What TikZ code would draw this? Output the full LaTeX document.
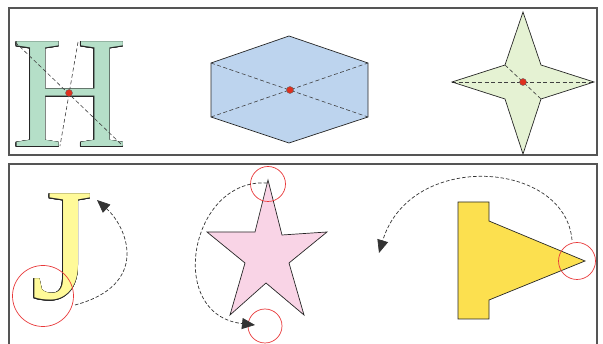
\documentclass[tikz,border=0pt]{standalone}
\usepackage{fontspec}
\setmainfont{Liberation Serif}
\usetikzlibrary{arrows.meta}
\definecolor{hgreen}{HTML}{B5DFC8}
\definecolor{hexblue}{HTML}{BDD4EE}
\definecolor{stargreen}{HTML}{E5F2D3}
\definecolor{jyellow}{HTML}{FFFA99}
\definecolor{starpink}{HTML}{F9D4E6}
\definecolor{tyellow}{HTML}{FCE04F}
\definecolor{dotred}{HTML}{E0301E}
\definecolor{ringred}{HTML}{E8393A}
\definecolor{framegray}{HTML}{555555}
\tikzset{
  panel/.style={draw=framegray, line width=1.3pt},
  figline/.style={draw=black!85, line width=0.7pt, line join=miter},
  guide/.style={draw=black!75, line width=0.6pt, dash pattern=on 4pt off 2.5pt},
  centre/.style={circle, fill=dotred, draw=black!60, line width=0.4pt, inner sep=0pt, minimum size=7pt},
  ring/.style={draw=ringred, line width=0.7pt},
  turn/.style={draw=black!80, line width=0.7pt, dash pattern=on 3.5pt off 2pt, -{Triangle[length=13pt,width=11pt]}},
  glyph/.style={inner sep=0pt, anchor=base west, font=\fontsize{160}{160}\selectfont},
  glyphedge/.style={glyph, text=black!85}
}
% outlined letter: dark copies ringed round the origin, coloured copy on top
\newcommand{\outlinedletter}[4]{%
  \foreach \ang in {0,30,...,330}
    \node[glyphedge, xshift={0.55pt*cos(\ang)}, yshift={0.55pt*sin(\ang)}] (#1-\ang) at (#2) {#4};
  \node[glyph, text=#3] (#1) at (#2) {#4};
}
\begin{document}
\begin{tikzpicture}[x=1pt,y=-1pt]
\useasboundingbox (0,0) rectangle (603,344);
% two panels
\draw[panel] (9,8) rectangle (597,155);
\draw[panel] (9,164) rectangle (597,380);

% --- top panel: centres of symmetric figures ---
% letter H
\coordinate (Hbase) at (12,147);
\outlinedletter{H}{Hbase}{hgreen}{H}
\coordinate (h1) at (15,42);
\coordinate (h2) at (123,146);
\coordinate (h3) at (78,42);
\coordinate (h4) at (60,146);
\draw[guide] (h1) -- (h2);
\draw[guide] (h3) -- (h4);
\node[centre] (hc) at (69,93) {};

% hexagon
\coordinate (x1) at (289,36);
\coordinate (x2) at (368,63);
\coordinate (x3) at (368,117);
\coordinate (x4) at (289,143);
\coordinate (x5) at (211,117);
\coordinate (x6) at (211,63);
\fill[hexblue] (x1) -- (x2) -- (x3) -- (x4) -- (x5) -- (x6) -- cycle;
\draw[guide] (x6) -- (x3);
\draw[guide] (x5) -- (x2);
\draw[figline] (x1) -- (x2) -- (x3) -- (x4) -- (x5) -- (x6) -- cycle;
\node[centre] (xc) at (290,90) {};

% four-pointed star
\coordinate (s1) at (523,12);
\coordinate (s2) at (541,65);
\coordinate (s3) at (594,82);
\coordinate (s4) at (541,99);
\coordinate (s5) at (523,154);
\coordinate (s6) at (505,99);
\coordinate (s7) at (452,82);
\coordinate (s8) at (505,65);
\fill[stargreen] (s1) -- (s2) -- (s3) -- (s4) -- (s5) -- (s6) -- (s7) -- (s8) -- cycle;
\draw[guide] (s7) -- (s3);
\draw[guide] (s8) -- (s4);
\draw[figline] (s1) -- (s2) -- (s3) -- (s4) -- (s5) -- (s6) -- (s7) -- (s8) -- cycle;
\node[centre] (sc) at (523,82) {};

% --- bottom panel: rotations ---
% letter J
\coordinate (Jbase) at (31,299);
\outlinedletter{J}{Jbase}{jyellow}{J}
\draw[ring] (43,296) circle (30.5);
\coordinate (ja) at (75,305);
\coordinate (jb) at (97,200);
\draw[turn] (ja) .. controls (150,285) and (128,228) .. (jb);

% five-pointed star
\coordinate (p1) at (268,180);
\coordinate (p2) at (282,235);
\coordinate (p3) at (327,232);
\coordinate (p4) at (289,263);
\coordinate (p5) at (304,315);
\coordinate (p6) at (266,283);
\coordinate (p7) at (230,315);
\coordinate (p8) at (245,263);
\coordinate (p9) at (207,232);
\coordinate (p10) at (255,232);
\draw[figline, fill=starpink] (p1) -- (p2) -- (p3) -- (p4) -- (p5) -- (p6) -- (p7) -- (p8) -- (p9) -- (p10) -- cycle;
\draw[ring] (268,184) circle (17.5);
\draw[ring] (265,326) circle (17);
\coordinate (pa) at (267,183);
\coordinate (pb) at (255,325);
\draw[turn] (pa) .. controls (190,178) and (165,315) .. (pb);

% arrow-shaped figure
\coordinate (t1) at (458,202);
\coordinate (t2) at (489,202);
\coordinate (t3) at (489,221);
\coordinate (t4) at (585,261);
\coordinate (t5) at (489,300);
\coordinate (t6) at (489,319);
\coordinate (t7) at (458,319);
\draw[figline, fill=tyellow] (t1) -- (t2) -- (t3) -- (t4) -- (t5) -- (t6) -- (t7) -- cycle;
\draw[ring] (577,261) circle (18.5);
\coordinate (ta) at (572,240);
\coordinate (tb) at (379,253);
\draw[turn] (ta) .. controls (565,160) and (410,150) .. (tb);
\end{tikzpicture}
\end{document}
